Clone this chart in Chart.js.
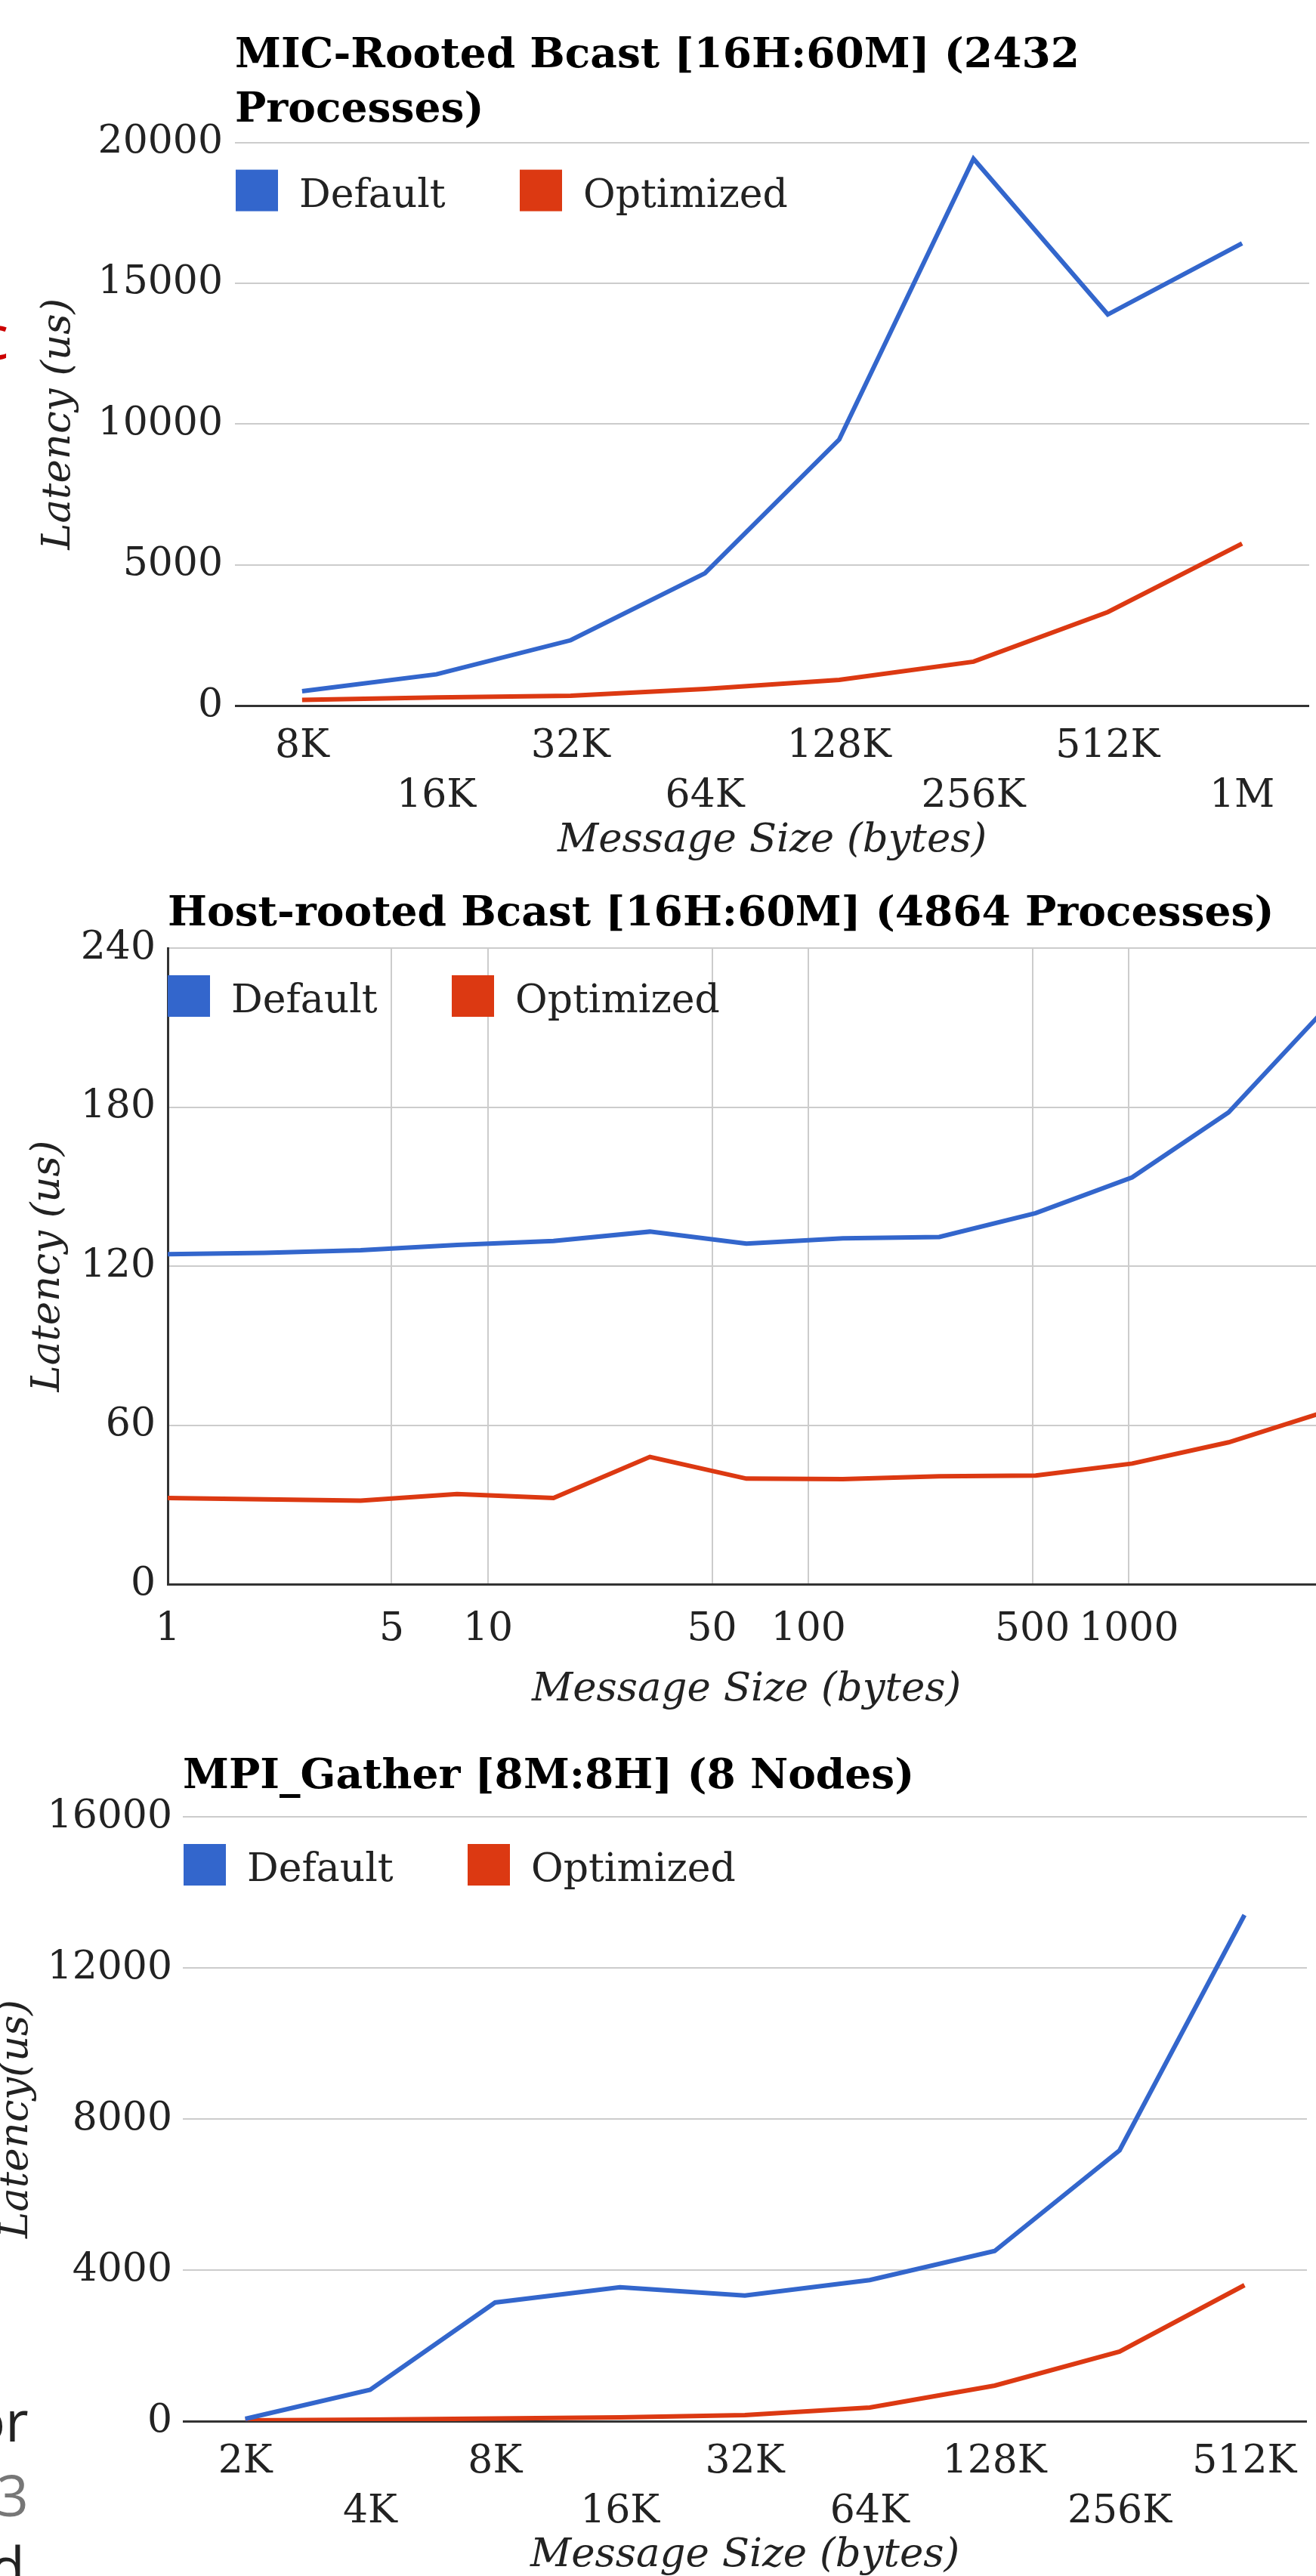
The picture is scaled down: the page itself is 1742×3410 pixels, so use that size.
<!DOCTYPE html>
<html><head><meta charset="utf-8">
<script src="https://cdn.jsdelivr.net/npm/chart.js@4.4.1/dist/chart.umd.min.js"></script>
<style>
html,body{margin:0;padding:0;background:#fff;width:1742px;height:3410px;overflow:hidden;position:relative;}
canvas{position:absolute;}
.frag{position:absolute;font-family:"Open Sans",sans-serif;line-height:1;white-space:nowrap;}
</style></head><body>
<canvas id="c1" width="1742" height="1140" style="left:0;top:0"></canvas>
<canvas id="c2" width="1754" height="1140" style="left:0;top:1140px"></canvas>
<canvas id="c3" width="1782" height="1130" style="left:-40px;top:2280px"></canvas>
<div class="frag" style="left:-27px;top:404px;font-size:80px;color:#cc0000">c</div>
<div class="frag" style="left:-38px;top:3166px;font-size:75px;color:#222">or</div>
<div class="frag" style="left:-5px;top:3265px;font-size:75px;color:#777">3</div>
<div class="frag" style="left:-13px;top:3360px;font-size:75px;color:#222">d</div>
<script>
// ---------- Data ----------
const seriesNames = ['Default', 'Optimized'];
const seriesColors = ['#3366cc', '#dc3912'];

// Chart 1: MIC-Rooted Bcast
const micSizes = ['8K', '16K', '32K', '64K', '128K', '256K', '512K', '1M'];
const micDefault = [510, 1110, 2320, 4700, 9450, 19420, 13890, 16420];
const micOptimized = [200, 290, 350, 590, 910, 1560, 3320, 5750];
const micYTicks = [0, 5000, 10000, 15000, 20000];

// Chart 2: Host-rooted Bcast (log x axis)
const hostSizes = [1, 2, 4, 8, 16, 32, 64, 128, 256, 512, 1024, 2048, 4096];
const hostDefault = [124.5, 125, 126, 128, 129.5, 133, 128.5, 130.5, 131, 140, 153.5, 178, 217];
const hostOptimized = [32.5, 32, 31.5, 34, 32.5, 48, 39.8, 39.6, 40.7, 41, 45.5, 53.5, 65];
const hostXTicks = [1, 5, 10, 50, 100, 500, 1000];
const hostYTicks = [0, 60, 120, 180, 240];

// Chart 3: MPI_Gather
const gatherSizes = ['2K', '4K', '8K', '16K', '32K', '64K', '128K', '256K', '512K'];
const gatherDefault = [60, 830, 3140, 3545, 3325, 3735, 4505, 7170, 13400];
const gatherOptimized = [20, 40, 70, 100, 160, 360, 940, 1840, 3600];
const gatherYTicks = [0, 4000, 8000, 12000, 16000];

// ---------- Styling ----------
const SERIF = "'DejaVu Serif', serif";
Chart.defaults.font.family = SERIF;
Chart.defaults.color = '#222';

const insideLegend = {
  id: 'insideLegend',
  afterDraw(chart, args, o) {
    const {ctx, chartArea} = chart;
    ctx.save();
    ctx.font = o.font;
    ctx.textAlign = 'left';
    ctx.textBaseline = 'alphabetic';
    chart.data.datasets.forEach((ds, i) => {
      const x = chartArea.left + o.x + i * o.step;
      const y = chartArea.top + o.y;
      ctx.fillStyle = ds.borderColor;
      ctx.fillRect(x, y, o.w, o.h);
      ctx.fillStyle = o.color;
      ctx.fillText(ds.label, x + o.w + o.gap, y + o.base);
    });
    ctx.restore();
  }
};

function mkDatasets(a, b) {
  return [a, b].map((d, i) => ({
    label: seriesNames[i], data: d, borderColor: seriesColors[i], backgroundColor: seriesColors[i],
    borderWidth: 6, pointRadius: 0, tension: 0, fill: false
  }));
}
const gridColor = c => (c.tick && c.tick.value === 0 ? '#333' : '#ccc');
const gridWidth = c => (c.tick && c.tick.value === 0 ? 3 : 2);
const tickFont = {size: 52, lineHeight: 66 / 52};
const axisTitleFont = {size: 53, style: 'italic', lineHeight: 1};
const titleFont = {size: 55, weight: 'bold', lineHeight: 72 / 55};
const legendOpts = {font: "52px 'DejaVu Serif'", color: '#222', x: 1, y: 36, w: 56, h: 55, gap: 28, step: 376, base: 49};

function catChart(id, o) {
  return new Chart(document.getElementById(id), {
    type: 'line',
    data: {labels: o.labels, datasets: mkDatasets(o.a, o.b)},
    plugins: [insideLegend],
    options: {
      responsive: false, animation: false,
      layout: {padding: {left: 0, right: o.padRight, top: 0, bottom: 0}},
      plugins: {
        legend: {display: false}, tooltip: {enabled: false},
        title: {display: true, text: o.title, align: 'start', fullSize: false, color: '#000',
          font: titleFont, padding: {top: o.titleTop, bottom: o.titleBottom}},
        insideLegend: legendOpts
      },
      scales: {
        x: {
          type: 'category', offset: true,
          grid: {display: false}, border: {display: false},
          ticks: {autoSkip: false, maxRotation: 0, minRotation: 0, padding: o.xPad, font: tickFont, color: '#222',
            callback: (v, i) => (i % 2 ? ['', o.labels[i]] : o.labels[i])},
          title: {display: true, text: 'Message Size (bytes)', font: axisTitleFont, color: '#222', padding: {top: 0, bottom: 0}},
          afterFit: s => { s.height = o.xHeight; }
        },
        y: {
          min: o.yTicks[0], max: o.yTicks[o.yTicks.length - 1],
          grid: {color: gridColor, lineWidth: gridWidth, drawTicks: false}, border: {display: false},
          afterBuildTicks: s => { s.ticks = o.yTicks.map(v => ({value: v})); },
          ticks: {padding: o.yPad, font: tickFont, color: '#222', callback: v => String(v)},
          title: {display: true, text: o.yTitle, font: axisTitleFont, color: '#222', padding: {top: o.yTitlePad, bottom: 0}},
          afterFit: s => { s.width = o.yWidth; }
        }
      }
    }
  });
}

catChart('c1', {
  labels: micSizes, a: micDefault, b: micOptimized, yTicks: micYTicks,
  title: ['MIC-Rooted Bcast [16H:60M] (2432', 'Processes)'], titleTop: 39, titleBottom: 5.6,
  padRight: 9, xPad: 13, xHeight: 206, yPad: 16, yWidth: 311, yTitle: 'Latency (us)', yTitlePad: 51.5
});

catChart('c3', {
  labels: gatherSizes, a: gatherDefault, b: gatherOptimized, yTicks: gatherYTicks,
  title: 'MPI_Gather [8M:8H] (8 Nodes)', titleTop: 37, titleBottom: 16,
  padRight: 12, xPad: 13, xHeight: 205, yPad: 14, yWidth: 282, yTitle: 'Latency(us)', yTitlePad: 35.5
});

new Chart(document.getElementById('c2'), {
  type: 'line',
  data: {datasets: mkDatasets(
    hostSizes.map((x, i) => ({x, y: hostDefault[i]})),
    hostSizes.map((x, i) => ({x, y: hostOptimized[i]})))},
  plugins: [insideLegend],
  options: {
    responsive: false, animation: false, parsing: true,
    layout: {padding: {left: 0, right: 0, top: 0, bottom: 0}},
    plugins: {
      legend: {display: false}, tooltip: {enabled: false},
      title: {display: true, text: 'Host-rooted Bcast [16H:60M] (4864 Processes)', align: 'start', fullSize: false,
        color: '#000', font: titleFont, padding: {top: 35, bottom: 8}},
      insideLegend: Object.assign({}, legendOpts, {x: 0})
    },
    scales: {
      x: {
        type: 'logarithmic', min: hostSizes[0], max: hostSizes[hostSizes.length - 1],
        grid: {color: c => (c.tick && c.tick.value === 1 ? '#333' : '#ccc'), lineWidth: 2, drawTicks: false},
        border: {display: false},
        afterBuildTicks: s => { s.ticks = hostXTicks.map(v => ({value: v})); },
        ticks: {autoSkip: false, maxRotation: 0, minRotation: 0, padding: 27, font: tickFont, color: '#222', callback: v => String(v)},
        title: {display: true, text: 'Message Size (bytes)', font: axisTitleFont, color: '#222', padding: {top: 0, bottom: 16.5}},
        afterFit: s => { s.height = 183; }
      },
      y: {
        min: hostYTicks[0], max: hostYTicks[hostYTicks.length - 1],
        grid: {color: gridColor, lineWidth: gridWidth, drawTicks: false},
        border: {display: true, color: '#333', width: 3},
        afterBuildTicks: s => { s.ticks = hostYTicks.map(v => ({value: v})); },
        ticks: {padding: 16, font: tickFont, color: '#222', callback: v => String(v)},
        title: {display: true, text: 'Latency (us)', font: axisTitleFont, color: '#222', padding: {top: 37.5, bottom: 0}},
        afterFit: s => { s.width = 222; }
      }
    }
  }
});
</script>
</body></html>
